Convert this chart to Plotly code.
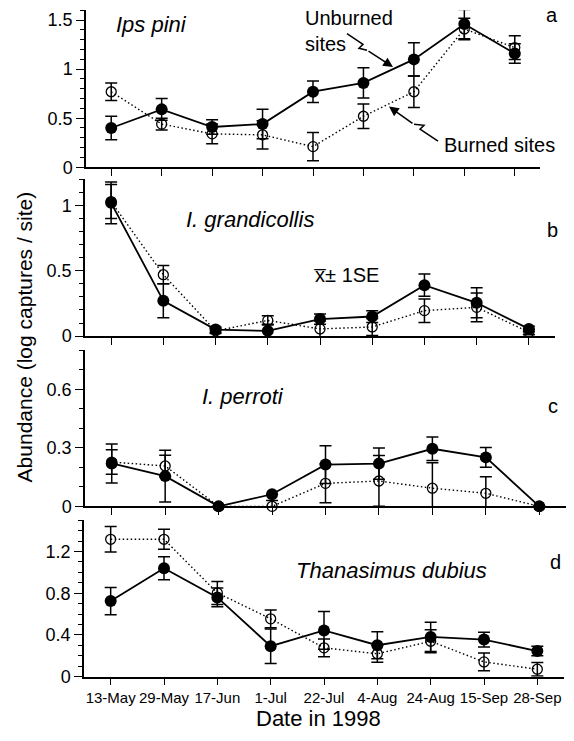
import plotly.graph_objects as go

W, H = 574, 741

dates = ["13-May", "29-May", "17-Jun", "1-Jul", "22-Jul", "4-Aug", "24-Aug", "15-Sep", "28-Sep"]

# Panel a: Ips pini
ips_unburned = [0.40, 0.59, 0.41, 0.44, 0.77, 0.86, 1.10, 1.46, 1.16]
ips_unburned_se = [0.12, 0.11, 0.075, 0.15, 0.11, 0.155, 0.17, 0.15, 0.10]
ips_burned = [0.77, 0.44, 0.34, 0.33, 0.21, 0.52, 0.77, 1.41, 1.22]
ips_burned_se = [0.09, 0.06, 0.10, 0.145, 0.145, 0.125, 0.16, 0.11, 0.12]

# Panel b: I. grandicollis
gra_unburned = [1.02, 0.27, 0.05, 0.04, 0.13, 0.15, 0.39, 0.255, 0.055]
gra_unburned_se = [0.16, 0.13, 0.02, 0.05, 0.04, 0.045, 0.085, 0.115, 0.02]
gra_burned = [1.03, 0.47, 0.04, 0.12, 0.055, 0.07, 0.195, 0.22, 0.03]
gra_burned_se = [0.13, 0.07, 0.02, 0.035, 0.06, 0.065, 0.09, 0.11, 0.02]

# Panel c: I. perroti
per_unburned = [0.22, 0.155, 0.0, 0.062, 0.214, 0.219, 0.295, 0.251, 0.0]
per_unburned_se = [0.10, 0.133, 0.0, 0.0, 0.097, 0.08, 0.06, 0.05, 0.0]
per_burned = [0.227, 0.207, 0.0, 0.0, 0.118, 0.13, 0.093, 0.067, 0.0]
per_burned_se = [0.063, 0.055, 0.0, 0.03, 0.10, 0.13, 0.13, 0.085, 0.0]

# Panel d: Thanasimus dubius
tha_unburned = [0.725, 1.04, 0.76, 0.293, 0.444, 0.302, 0.381, 0.356, 0.246]
tha_unburned_se = [0.13, 0.11, 0.09, 0.165, 0.18, 0.13, 0.14, 0.07, 0.045]
tha_burned = [1.317, 1.317, 0.803, 0.555, 0.277, 0.22, 0.34, 0.142, 0.072]
tha_burned_se = [0.123, 0.095, 0.11, 0.085, 0.085, 0.08, 0.11, 0.085, 0.065]

panels = [
    dict(name="Ips pini", unb=ips_unburned, unb_se=ips_unburned_se, bur=ips_burned, bur_se=ips_burned_se,
         yr=[0, 1.6], dtick=0.5, px=(86, 540), py=(10.5, 169.5)),
    dict(name="I. grandicollis", unb=gra_unburned, unb_se=gra_unburned_se, bur=gra_burned, bur_se=gra_burned_se,
         yr=[0, 1.2], dtick=0.5, px=(85, 555), py=(181.8, 340.7)),
    dict(name="I. perroti", unb=per_unburned, unb_se=per_unburned_se, bur=per_burned, bur_se=per_burned_se,
         yr=[0, 0.8], dtick=0.3, px=(85, 566), py=(355, 513.3)),
    dict(name="Thanasimus dubius", unb=tha_unburned, unb_se=tha_unburned_se, bur=tha_burned, bur_se=tha_burned_se,
         yr=[0, 1.5], dtick=0.4, px=(84, 564), py=(527.3, 686)),
]

FONT = "Liberation Sans, Arial, Helvetica, sans-serif"
xi = list(range(len(dates)))

def px2x(p):
    return p / W

def py2y(p):
    return 1 - p / H

fig = go.Figure()
layout = dict(
    width=W, height=H, margin=dict(l=0, r=0, t=0, b=0),
    paper_bgcolor="white", plot_bgcolor="white", showlegend=False,
    font=dict(family=FONT, color="black"),
)

for i, p in enumerate(panels):
    n = "" if i == 0 else str(i + 1)
    xa, ya = "x" + n, "y" + n
    fig.add_trace(go.Scatter(
        x=xi, y=p["bur"], xaxis=xa, yaxis=ya, mode="lines+markers", cliponaxis=False,
        line=dict(color="black", width=1.4, dash="1.5px,2.5px"),
        marker=dict(symbol="circle-open", size=10, color="black", line=dict(width=1.3, color="black")),
        error_y=dict(type="data", array=p["bur_se"], color="black", thickness=1.5, width=6),
    ))
    fig.add_trace(go.Scatter(
        x=xi, y=p["unb"], xaxis=xa, yaxis=ya, mode="lines+markers", cliponaxis=False,
        line=dict(color="black", width=1.8),
        marker=dict(symbol="circle", size=12, color="black"),
        error_y=dict(type="data", array=p["unb_se"], color="black", thickness=1.5, width=6),
    ))
    last = i == len(panels) - 1
    layout["xaxis" + n] = dict(
        domain=[px2x(p["px"][0]), px2x(p["px"][1])], range=[-0.5, 8.5],
        anchor=ya, tickvals=xi, ticktext=dates, showticklabels=last,
        ticks="outside", ticklen=7, tickwidth=1.3, tickcolor="black",
        showline=True, linecolor="black", linewidth=1.5, showgrid=False, zeroline=False,
        tickfont=dict(size=15, family=FONT, color="black"),
    )
    layout["yaxis" + n] = dict(
        domain=[py2y(p["py"][1]), py2y(p["py"][0])], range=p["yr"], anchor=xa,
        dtick=p["dtick"], tick0=0, ticks="outside", ticklen=8, tickwidth=1.3, tickcolor="black",
        minor=dict(dtick=0.1, tick0=0, ticks="outside", ticklen=4, tickwidth=1, tickcolor="black"),
        showline=True, linecolor="black", linewidth=1.5, showgrid=False, zeroline=False,
        tickfont=dict(size=18, family=FONT, color="black"),
    )

fig.update_layout(**layout)

ann = []
def txt(t, x, y, size=20, italic=False, xanchor="center", align="center"):
    s = "<i>%s</i>" % t if italic else t
    ann.append(dict(text=s, x=px2x(x), y=py2y(y), xref="paper", yref="paper", showarrow=False,
                    xanchor=xanchor, yanchor="middle", align=align,
                    font=dict(size=size, family=FONT, color="black")))

txt("Ips pini", 151, 25, 22, True)
txt("I. grandicollis", 250, 222, 22, True)
txt("I. perroti", 243, 402, 22, True)
txt("Thanasimus dubius", 391, 578, 22, True)
txt("a", 552, 15)
txt("b", 552, 233)
txt("c", 553, 412)
txt("d", 555, 570)
txt("Unburned<br>sites", 303, 31, 20, xanchor="left", align="left")
txt("Burned sites", 500, 147, 20)
txt("x\u0305\u00b1 1SE", 346, 279, 20)
txt("Date in 1998", 318, 728, 22)
ann.append(dict(text="Abundance (log captures / site)", x=px2x(24), y=py2y(342), xref="paper", yref="paper",
                showarrow=False, textangle=-90, xanchor="center", yanchor="middle",
                font=dict(size=21, family=FONT, color="black")))

# arrow heads
def arrow(x0, y0, x1, y1):
    ann.append(dict(x=px2x(x1), y=py2y(y1), ax=x0 - x1, ay=y0 - y1, xref="paper", yref="paper",
                    axref="pixel", ayref="pixel", showarrow=True, arrowhead=2, arrowsize=1.3,
                    arrowwidth=1.5, arrowcolor="black", text=""))

arrow(367, 51, 393, 68)
arrow(414, 126, 389, 108)
fig.update_layout(annotations=ann)

def path(pts):
    s = "M " + " L ".join("%f,%f" % (px2x(a), py2y(b)) for a, b in pts)
    return dict(type="path", path=s, xref="paper", yref="paper", line=dict(color="black", width=1.5))

fig.update_layout(shapes=[
    path([(347, 34), (363, 45), (359, 49), (367, 51)]),
    path([(438, 143), (420, 131), (424, 127), (414, 126)]),
])

fig.write_html("out.html")
